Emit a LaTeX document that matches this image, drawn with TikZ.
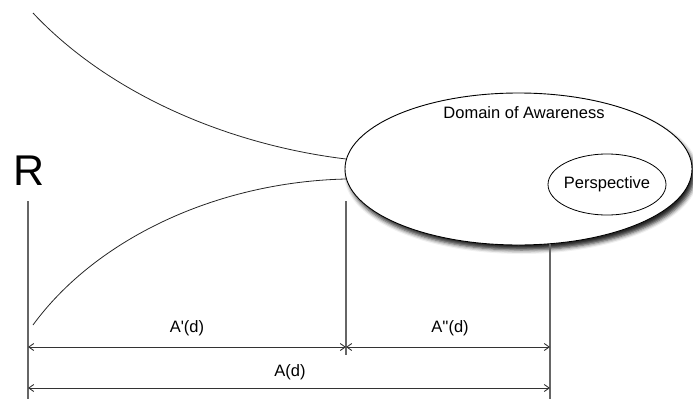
\documentclass[tikz,border=0pt]{standalone}
\usepackage{fontspec}
\setmainfont{Liberation Sans}
\usetikzlibrary{shapes.geometric,arrows.meta,shadows.blur}
\begin{document}
\begin{tikzpicture}[x=1pt,y=-1pt,
  lbl/.style={font=\fontsize{16.5}{18}\selectfont, inner sep=0pt},
  vline/.style={draw=black!60, line width=1.1pt},
  curve/.style={draw=black!85, line width=0.8pt},
  dim/.style={draw=black!80, line width=0.9pt, {Straight Barb[length=5pt,width=7pt]}-{Straight Barb[length=5pt,width=7pt]}}]
\useasboundingbox (0,0) rectangle (693,399);
% ellipses
\node[ellipse, draw, line width=0.9pt, fill=white, minimum width=347pt, minimum height=152pt, inner sep=0pt,
  blur shadow={shadow xshift=3pt, shadow yshift=-5pt, shadow blur radius=4pt, shadow opacity=85}] (dom) at (518.5,169) {};
\node[lbl] (domt) at (524,113) {Domain of Awareness};
\node[ellipse, draw, line width=0.8pt, minimum width=118pt, minimum height=61pt, inner sep=0pt] (persp) at (607,184.5) {};
\node[lbl] (perspt) at (607,184.5) {Perspective};
% R
\node[inner sep=0pt, font=\fontsize{43}{45}\selectfont] (R) at (29,171) {R};
% curve endpoints
\coordinate (ut) at (33,13);
\coordinate (ue) at (346,159);
\coordinate (lt) at (33,325);
\coordinate (le) at (346,179);
\draw[curve] (ut) .. controls (110,95) and (230,145) .. (ue);
\draw[curve] (lt) .. controls (95,240) and (215,182) .. (le);
% vertical lines
\coordinate (l1) at (28,201); \coordinate (l2) at (28,399);
\coordinate (m1) at (346,201); \coordinate (m2) at (346,355);
\coordinate (r1) at (550,244); \coordinate (r2) at (550,399);
\draw[vline] (l1) -- (l2);
\draw[vline] (m1) -- (m2);
\draw[vline] (r1) -- (r2);
% dimension arrows
\coordinate (a1) at (28,347); \coordinate (a2) at (346,347); \coordinate (a3) at (550,347);
\coordinate (b1) at (28,388); \coordinate (b3) at (550,388);
\draw[dim] (a1) -- (a2);
\draw[dim] (a2) -- (a3);
\draw[dim] (b1) -- (b3);
\node[lbl] (ap) at (187,328) {A\textquotesingle(d)};
\node[lbl] (app) at (450,328) {A\textquotesingle\textquotesingle(d)};
\node[lbl] (a) at (290,372) {A(d)};
\end{tikzpicture}
\end{document}
